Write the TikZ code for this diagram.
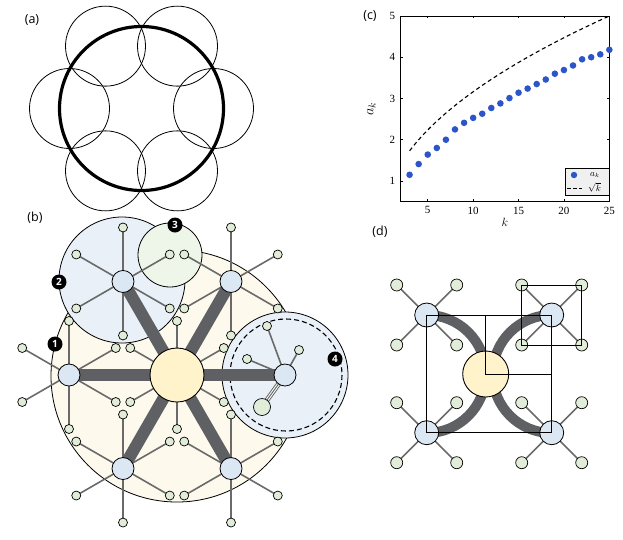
\documentclass[tikz,border=0pt]{standalone}
\usepackage{fontspec}
\setmainfont{Open Sans}
\newfontfamily\serifnum{Liberation Serif}
\begin{document}
\begin{tikzpicture}[x=1pt,y=-1pt,
  leaf/.style={circle,draw=black,line width=0.7,fill=leafc,minimum size=9,inner sep=0},
  hub/.style={circle,draw=black,line width=0.8,fill=hubc,minimum size=22,inner sep=0},
  core/.style={circle,draw=black,line width=0.9,fill=corec,minimum size=54,inner sep=0},
  thin/.style={draw=edgec,line width=1.6},
  bar/.style={draw=barc,line width=12},
  tag/.style={circle,fill=black,text=white,font=\bfseries\fontsize{10}{10}\selectfont,minimum size=15,inner sep=0},
  lbl/.style={font=\fontsize{12.5}{14}\selectfont},
  tick/.style={font=\serifnum\fontsize{11}{12}\selectfont},
  legtext/.style={font=\fontsize{9}{10}\selectfont,inner sep=0,anchor=west}]
\definecolor{leafc}{HTML}{E2EDD9}
\definecolor{hubc}{HTML}{DCE7F4}
\definecolor{corec}{HTML}{FFF3CC}
\definecolor{edgec}{HTML}{6A6A6A}
\definecolor{barc}{HTML}{5F6063}
\definecolor{bubY}{HTML}{FDF9EC}
\definecolor{bubB}{HTML}{E9F0F8}
\definecolor{bubG}{HTML}{EEF6E9}
\definecolor{dotc}{HTML}{2B55C8}
\useasboundingbox (0,0) rectangle (623,539);
% ---------- (a)
\node[lbl] (la) at (32,20) {(a)};
\foreach \a in {0,60,...,300}
  \draw[line width=0.8] ({141.5+72*cos(\a)},{108.5+72*sin(\a)}) circle[radius=40];
\draw[line width=3.2] (141.5,108.5) circle[radius=82];
% ---------- (b)
\node[lbl] (lb) at (35,218) {(b)};
\draw[line width=0.8,fill=bubY] (177,376) circle[radius=126];
\draw[line width=0.8,fill=bubB] (122,280) circle[radius=63];
\draw[line width=0.8,fill=bubG] (170,255) circle[radius=32];
\draw[line width=0.8,fill=bubB] (285,375) circle[radius=63];
\draw[line width=1.1,dashed,dash pattern=on 5pt off 3pt] (286,375) circle[radius=56];
\coordinate (C) at (177,375);
\foreach \j in {30,90,...,330}
  \coordinate (cl\j) at ({177+54*cos(\j)},{375+54*sin(\j)});
\foreach \j in {30,90,...,330} \draw[thin] (C) -- (cl\j);
\foreach \a in {0,60,...,300}
  \coordinate (h\a) at ({177+108*cos(\a)},{375+108*sin(\a)});
\foreach \a in {60,120,...,300}
  \foreach \j in {30,90,...,330}
    \draw[thin] (h\a) -- ++({54*cos(\j)},{54*sin(\j)}) coordinate (l\a-\j);
\coordinate (r1) at (267,326); \coordinate (r2) at (247,359); \coordinate (r3) at (299,350);
\coordinate (rb) at (262,407);
\foreach \r in {r1,r2,r3} \draw[thin] (h0) -- (\r);
\draw[edgec,line width=5] (h0) -- (rb);
\draw[white,line width=3] (h0) -- (rb);
\draw[edgec,line width=1] (h0) -- (rb);
\foreach \a in {0,60,...,300} \draw[bar] (C) -- (h\a);
\foreach \j in {30,90,...,330} \node[leaf] at (cl\j) {};
\foreach \a in {60,120,...,300}
  \foreach \j in {30,90,...,330} \node[leaf] at (l\a-\j) {};
\foreach \r in {r1,r2,r3} \node[leaf] at (\r) {};
\node[leaf,minimum size=17] (rbn) at (rb) {};
\foreach \a in {0,60,...,300} \node[hub] (H\a) at (h\a) {};
\node[core] (cn) at (C) {};
\node[tag] (t1) at (55,344) {1};
\node[tag] (t2) at (59,282) {2};
\node[tag] (t3) at (175,225) {3};
\node[tag] (t4) at (335,359) {4};
% ---------- (c)
\node[lbl] (lc) at (370,16) {(c)};
\begin{scope}[shift={(400.5,201.6)},x=9.08pt,y=41.25pt]
  \draw[line width=0.8] (0,0) rectangle (23,4.5);
  \foreach \k in {5,10,...,25}{
    \draw[line width=0.5] (\k-2,0) -- ++(0,0.06) (\k-2,4.5) -- ++(0,-0.06);
    \node[tick,anchor=north] at (\k-2,-0.04) {\k};}
  \foreach \v in {1,...,5}{
    \draw[line width=0.5] (0,\v-0.5) -- ++(0.25,0) (23,\v-0.5) -- ++(-0.25,0);
    \node[tick,anchor=east] at (-0.2,\v-0.5) {\v};}
  \node[font=\fontsize{13}{14}\selectfont] (xk) at (11.5,-0.5) {$k$};
  \node[rotate=90,font=\fontsize{14}{14}\selectfont] (ya) at (-3.2,2.25) {$a_k$};
  \draw[line width=1.1,dash pattern=on 4pt off 3pt,domain=3:25,samples=40] plot (\x-2,{sqrt(\x)-0.5});
  \foreach \k/\v in {3/1.15,4/1.41,5/1.64,6/1.80,7/2.0,8/2.25,9/2.41,10/2.53,11/2.63,12/2.77,13/2.88,14/3.01,15/3.14,16/3.24,17/3.35,18/3.46,19/3.60,20/3.69,21/3.80,22/3.95,23/4.0,24/4.07,25/4.18}
    \fill[dotc] (\k-2,\v-0.5) circle[radius=3.3pt];
\end{scope}
\draw[line width=0.7,fill=gray!12] (565,168) rectangle (609,195);
\fill[dotc] (574,175) circle[radius=3.2];
\node[legtext] (lg1) at (590,175) {$a_k$};
\draw[line width=1,dash pattern=on 4pt off 2pt] (567,188) -- (582,188);
\node[legtext] (lg2) at (588,187.5) {$\sqrt{k}$};
% ---------- (d)
\node[lbl] (ld) at (380,232) {(d)};
\coordinate (D) at (485.7,374);
\coordinate (dA) at (426.7,315); \coordinate (dB) at (551.7,315);
\coordinate (dC) at (426.7,432.7); \coordinate (dE) at (551.7,432.7);
\foreach \h in {dA,dB,dC,dE}
  \foreach \dx/\dy in {-30/-30,30/-30,-30/30,30/30}
    \draw[thin] (\h) -- ++(\dx,\dy) coordinate (\h\dx\dy);
\draw[barc,line width=10] (dA) arc[start angle=-90,end angle=90,radius=59];
\draw[barc,line width=10] (dB) arc[start angle=-90,end angle=-270,radius=59];
\foreach \h in {dA,dB,dC,dE}
  \foreach \dx/\dy in {-30/-30,30/-30,-30/30,30/30}
    \node[leaf,minimum size=12] at (\h\dx\dy) {};
\foreach \h in {dA,dB,dC,dE} \node[hub,minimum size=24] at (\h) {};
\node[core,minimum size=46] (dn) at (D) {};
\draw[line width=1] (dA) rectangle (dE);
\draw[line width=1] (485.7,315) -- (D) -- (551.7,374);
\draw[line width=1] (521.7,285) rectangle (581.7,345);
\end{tikzpicture}
\end{document}
